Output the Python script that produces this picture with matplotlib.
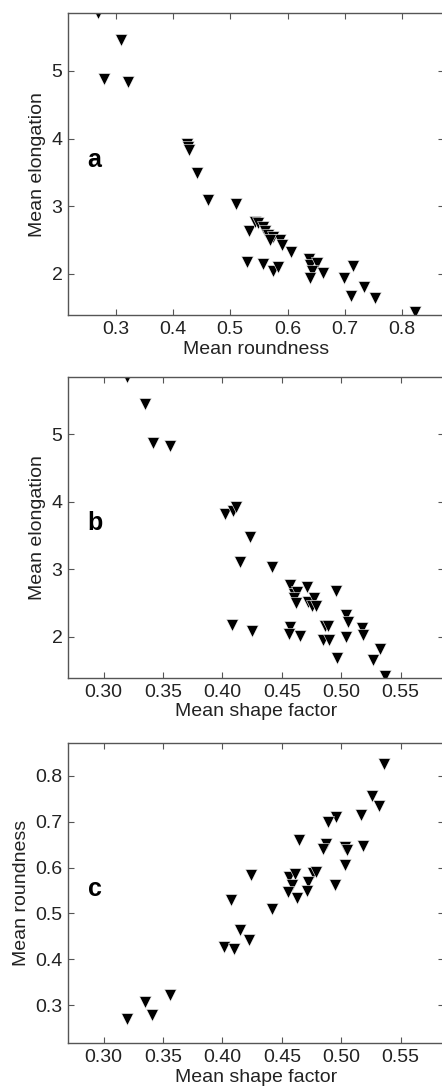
import numpy as np
import matplotlib
matplotlib.use("Agg")
import matplotlib.pyplot as plt
from matplotlib.ticker import FormatStrFormatter

# panel a: mean roundness vs mean elongation
round_a = [0.269, 0.309, 0.280, 0.322, 0.424, 0.427, 0.428, 0.442, 0.462, 0.510,
           0.533, 0.543, 0.548, 0.557, 0.561, 0.565, 0.574, 0.587, 0.591, 0.6056,
           0.530, 0.558, 0.575, 0.583, 0.637, 0.639, 0.652, 0.643, 0.639, 0.661,
           0.698, 0.714, 0.733, 0.710, 0.753, 0.823, 0.570]
elong_a = [5.85, 5.46, 4.88, 4.83, 3.92, 3.87, 3.83, 3.49, 3.10, 3.03,
           2.63, 2.77, 2.75, 2.70, 2.63, 2.58, 2.54, 2.50, 2.43, 2.32,
           2.18, 2.15, 2.04, 2.11, 2.22, 2.14, 2.16, 2.04, 1.94, 2.02,
           1.94, 2.12, 1.81, 1.68, 1.64, 1.44, 2.50]

# panel b: mean shape factor vs mean elongation
shape_b = [0.320, 0.335, 0.3415, 0.356, 0.402, 0.409, 0.411, 0.423, 0.415, 0.442,
           0.408, 0.425, 0.457, 0.4715, 0.4955, 0.460, 0.463, 0.4605, 0.462, 0.472,
           0.477, 0.475, 0.479, 0.504, 0.506, 0.517, 0.518, 0.457, 0.456, 0.465,
           0.486, 0.489, 0.485, 0.490, 0.504, 0.4966, 0.5325, 0.527, 0.537]
elong_b = [5.85, 5.45, 4.87, 4.82, 3.82, 3.86, 3.92, 3.47, 3.11, 3.03,
           2.18, 2.09, 2.76, 2.74, 2.68, 2.64, 2.66, 2.57, 2.50, 2.52,
           2.57, 2.45, 2.45, 2.32, 2.22, 2.13, 2.03, 2.15, 2.04, 2.01,
           2.16, 2.16, 1.95, 1.95, 2.00, 1.68, 1.82, 1.66, 1.42]

# panel c: mean shape factor vs mean roundness
shape_c = [0.536, 0.526, 0.532, 0.5166, 0.4955, 0.4886, 0.4645, 0.518, 0.4874, 0.485,
           0.503, 0.505, 0.503, 0.495, 0.424, 0.4765, 0.479, 0.4563, 0.461, 0.4583,
           0.4555, 0.4723, 0.4709, 0.4625, 0.4073, 0.4418, 0.4149, 0.4227, 0.4017, 0.410,
           0.356, 0.335, 0.341, 0.320]
round_c = [0.825, 0.755, 0.733, 0.715, 0.711, 0.699, 0.660, 0.646, 0.652, 0.641,
           0.644, 0.639, 0.606, 0.561, 0.583, 0.588, 0.590, 0.579, 0.585, 0.561,
           0.546, 0.568, 0.548, 0.534, 0.530, 0.509, 0.463, 0.443, 0.427, 0.423,
           0.322, 0.307, 0.278, 0.271]

round_lim = (0.217, 0.872)
shape_lim = (0.27, 0.586)
elong_lim = (1.39, 5.85)

plt.rcParams['font.family'] = ['Liberation Sans', 'DejaVu Sans']
plt.rcParams['font.size'] = 14

fig = plt.figure(figsize=(4.42, 10.9), dpi=100)
W, H = 442.0, 1090.0
left = 68 / W
width = (443.5 - 68) / W
boxes = [(13.3, 315.3), (376.7, 678.0), (742.7, 1043.3)]
axes = [fig.add_axes([left, 1 - b / H, width, (b - t) / H]) for t, b in boxes]

panels = [
    (round_a, elong_a, 'Mean roundness', 'Mean elongation', 'a', round_lim, elong_lim,
     [0.3, 0.4, 0.5, 0.6, 0.7, 0.8], [2, 3, 4, 5], '%.1f', '%d'),
    (shape_b, elong_b, 'Mean shape factor', 'Mean elongation', 'b', shape_lim, elong_lim,
     [0.30, 0.35, 0.40, 0.45, 0.50, 0.55], [2, 3, 4, 5], '%.2f', '%d'),
    (shape_c, round_c, 'Mean shape factor', 'Mean roundness', 'c', shape_lim, round_lim,
     [0.30, 0.35, 0.40, 0.45, 0.50, 0.55], [0.3, 0.4, 0.5, 0.6, 0.7, 0.8], '%.2f', '%.1f'),
]

for ax, (x, y, xl, yl, tag, xlim, ylim, xt, yt, xf, yf) in zip(axes, panels):
    ax.plot(x, y, linestyle='none', marker='v', ms=8.6, mfc='black',
            mec='white', mew=0.4)
    ax.set_xlim(*xlim)
    ax.set_ylim(*ylim)
    ax.set_xticks(xt)
    ax.set_yticks(yt)
    ax.xaxis.set_major_formatter(FormatStrFormatter(xf))
    ax.yaxis.set_major_formatter(FormatStrFormatter(yf))
    ax.tick_params(direction='in', length=4, width=0.8, color='#555555',
                   labelcolor='#222222', top=True, right=True, pad=4, labelsize=14)
    for s in ax.spines.values():
        s.set_color('#555555')
        s.set_linewidth(1.0)
    ax.set_xlabel(xl, fontsize=14, color='#222222', labelpad=2)
    ax.set_ylabel(yl, fontsize=14, color='#222222', labelpad=4)
    ax.text(0.052, 0.49, tag, transform=ax.transAxes, fontsize=18,
            fontweight='bold', ha='left', va='baseline')

fig.savefig('out.png', dpi=100)
